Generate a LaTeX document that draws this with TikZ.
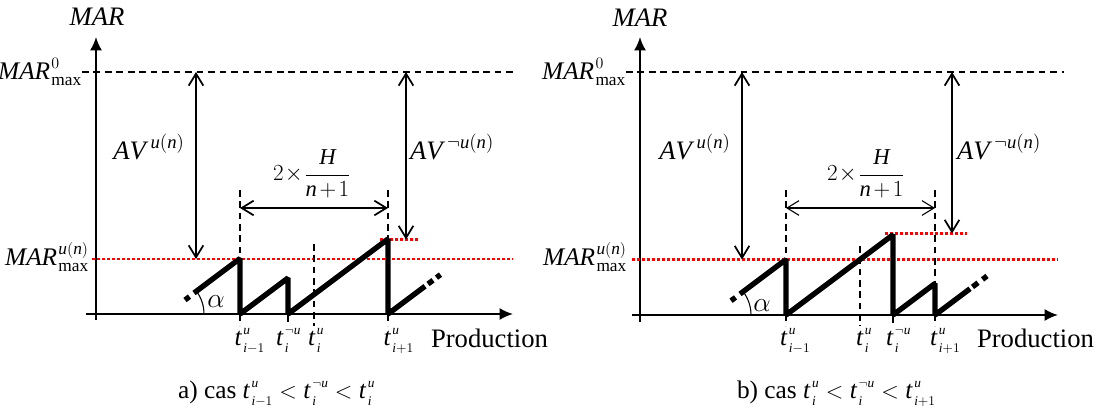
\documentclass[tikz,border=0pt]{standalone}
\usepackage{fontspec}
\setmainfont{Liberation Serif}
\usetikzlibrary{arrows.meta}
\DeclareMathSizes{20}{20}{14}{10}
\DeclareMathSizes{19}{19}{13}{10}
\DeclareMathSizes{18}{18}{12}{9}
\DeclareMathSizes{17}{17}{11}{8}
\newcommand{\mi}[1]{\mathit{#1}}
\newcommand{\tlab}[2]{${\mi{t}\mkern1.5mu}^{\raisebox{1.5pt}{$\scriptscriptstyle #1$}}_{\raisebox{-1pt}{$\scriptscriptstyle #2$}}$}
\newcommand{\marlab}[1]{${\mi{MAR}\mkern1mu}^{#1}_{\mathrm{max}}$}
\newcommand{\avlab}[1]{${\mi{AV}\mkern3mu}^{#1}$}
\newcommand{\fraclab}{$2\mkern1mu{\times}\mkern1mu\displaystyle\frac{\mi{H}}{\mi{n}\mkern2mu{+}\mkern2mu1}$}
\begin{document}
\begin{tikzpicture}[x=0.75pt,y=-0.75pt,
  every node/.style={inner sep=0pt,outer sep=0pt},
  axis/.style={line width=1.5pt,-{Latex[length=10pt,width=9pt]}},
  tickline/.style={line width=1.3pt},
  dbl/.style={line width=1.3pt,{Straight Barb[length=9pt,width=11pt]}-{Straight Barb[length=9pt,width=11pt]}},
  dblthin/.style={dbl,line width=0.8pt},
  maxline/.style={line width=1.4pt,dash pattern=on 5pt off 3.6pt},
  vdash/.style={line width=1.4pt,dash pattern=on 5pt off 3.5pt},
  reddot/.style={draw=red,line width=1.8pt,dash pattern=on 1.9pt off 1.85pt},
  saw/.style={line width=4pt,line join=bevel},
  arcline/.style={line width=0.8pt},
  bigtxt/.style={font=\fontsize{20}{24}\selectfont},
  midtxt/.style={font=\fontsize{19}{23}\selectfont},
  martxt/.style={font=\fontsize{19}{23}\selectfont},
  fractxt/.style={font=\fontsize{17}{20}\selectfont},
  tlabel/.style={font=\fontsize{19}{23}\selectfont,anchor=base west}
]
\useasboundingbox (0,0) rectangle (1098,413);

% ================= LEFT PANEL =================
\coordinate (LyB) at (96,320);
\coordinate (LyT) at (96,37);
\coordinate (LxB) at (86,314);
\coordinate (LxE) at (513,314);
\draw[axis] (LyB) -- (LyT);
\draw[axis] (LxB) -- (LxE);

\node[bigtxt] (Lmar) at (97,17) {$\mi{MAR}$};
\node[martxt,anchor=east] (LmarO) at (82,72) {\marlab{0}};
\node[martxt,anchor=east] (LmarU) at (89,257) {\marlab{\mi{u}(\mi{n})}};

\coordinate (LmaxA) at (82,72);
\coordinate (LmaxB) at (515,72);
\draw[maxline] (LmaxA) -- (LmaxB);

\coordinate (LrA) at (92,259);
\coordinate (LrB) at (513,259);
\draw[reddot] (LrA) -- (LrB);
\coordinate (Lr2A) at (380,239.5);
\coordinate (Lr2B) at (418,239.5);
\draw[reddot] (Lr2A) -- (Lr2B);

% dashed verticals
\draw[vdash] (240,190) -- (240,326);
\draw[vdash] (388,190) -- (388,326);
\draw[vdash] (314,244) -- (314,326);
\draw[tickline] (288,314) -- (288,322);

% double arrows
\coordinate (LavT) at (196,72);
\coordinate (LavB) at (196,259);
\draw[dbl] (LavT) -- (LavB);
\coordinate (LanT) at (406,72);
\coordinate (LanB) at (406,239.5);
\draw[dbl] (LanT) -- (LanB);
\coordinate (LhA) at (240,208);
\coordinate (LhB) at (388,208);
\draw[dbl] (LhA) -- (LhB);

\node[bigtxt] (Lav) at (149,147) {\avlab{\mi{u}(\mi{n})}};
\node[bigtxt] (Lavn) at (452,147) {\avlab{\neg\mi{u}(\mi{n})}};
\node[fractxt] (Lfrac) at (312,174) {\fraclab};

% sawtooth
\draw[saw] (194,293) -- (240,258.5) -- (240,314) -- (288,278) -- (288,314) -- (388,239) -- (388,314) -- (425,286.25);
\draw[saw] (185,300) -- (189.5,296.6);
\draw[saw] (428,284) -- (433,280.25);
\draw[saw] (436.5,277.6) -- (440.5,274.6);
\draw[arcline] (204,314) arc[start angle=0,end angle=37,radius=28.5pt];
\node[bigtxt] (Lalpha) at (216,302) {$\alpha$};

% t labels
\node[tlabel] (Lt1) at (234.5,345) {\tlab{\mi{u}}{\mi{i}-1}};
\node[tlabel] (Lt2) at (276,345) {\tlab{\neg\mi{u}}{\mi{i}}};
\node[tlabel] (Lt3) at (308,345) {\tlab{\mi{u}}{\mi{i}}};
\node[tlabel] (Lt4) at (383.5,345) {\tlab{\mi{u}}{\mi{i}+1}};
\node[bigtxt,anchor=base west] (Lprod) at (431,347) {Production};

\node[midtxt,anchor=base west] (Lcap) at (178,398) {a) cas \tlab{\mi{u}}{\mi{i}-1}${}<{}$\tlab{\neg\mi{u}}{\mi{i}}${}<{}$\tlab{\mi{u}}{\mi{i}}};

% ================= RIGHT PANEL =================
\coordinate (RyB) at (640,322);
\coordinate (RyT) at (640,37);
\coordinate (RxB) at (632,315);
\coordinate (RxE) at (1058,315);
\draw[axis] (RyB) -- (RyT);
\draw[axis] (RxB) -- (RxE);

\node[bigtxt] (Rmar) at (640,18) {$\mi{MAR}$};
\node[martxt,anchor=east] (RmarO) at (626,72) {\marlab{0}};
\node[martxt,anchor=east] (RmarU) at (627,257) {\marlab{\mi{u}(\mi{n})}};

\coordinate (RmaxA) at (626,72);
\coordinate (RmaxB) at (1064,72);
\draw[maxline] (RmaxA) -- (RmaxB);

\coordinate (RrA) at (632,259.5);
\coordinate (RrB) at (1058,259.5);
\draw[reddot] (RrA) -- (RrB);
\coordinate (Rr2A) at (885,233.5);
\coordinate (Rr2B) at (967,233.5);
\draw[reddot] (Rr2A) -- (Rr2B);

\draw[vdash] (786,190) -- (786,326);
\draw[vdash] (935,190) -- (935,326);
\draw[vdash] (860,246) -- (860,326);
\draw[tickline] (893,315) -- (893,323);

\coordinate (RavT) at (742,72);
\coordinate (RavB) at (742,259.5);
\draw[dbl] (RavT) -- (RavB);
\coordinate (RanT) at (952,72);
\coordinate (RanB) at (952,233.5);
\draw[dbl] (RanT) -- (RanB);
\coordinate (RhA) at (786,208);
\coordinate (RhB) at (935,208);
\draw[dblthin] (RhA) -- (RhB);

\node[bigtxt] (Rav) at (695,147) {\avlab{\mi{u}(\mi{n})}};
\node[bigtxt] (Ravn) at (999,147) {\avlab{\neg\mi{u}(\mi{n})}};
\node[fractxt] (Rfrac) at (866,174) {\fraclab};

\draw[saw] (740,294) -- (786,259.5) -- (786,315) -- (893,234.75) -- (893,315) -- (935,283.5) -- (935,315) -- (970,288.75);
\draw[saw] (731,300.75) -- (735.5,297.4);
\draw[saw] (972.5,286.9) -- (978,282.75);
\draw[saw] (982.5,279.4) -- (987,276);
\draw[arcline] (751,315) arc[start angle=0,end angle=37,radius=29pt];
\node[bigtxt] (Ralpha) at (762,306) {$\alpha$};

\node[tlabel] (Rt1) at (780,345) {\tlab{\mi{u}}{\mi{i}-1}};
\node[tlabel] (Rt2) at (856,345) {\tlab{\mi{u}}{\mi{i}}};
\node[tlabel] (Rt3) at (886,345) {\tlab{\neg\mi{u}}{\mi{i}}};
\node[tlabel] (Rt4) at (930,345) {\tlab{\mi{u}}{\mi{i}+1}};
\node[bigtxt,anchor=base west] (Rprod) at (977,347) {Production};

\node[midtxt,anchor=base west] (Rcap) at (737,398) {b) cas \tlab{\mi{u}}{\mi{i}}${}<{}$\tlab{\neg\mi{u}}{\mi{i}}${}<{}$\tlab{\mi{u}}{\mi{i}+1}};
\end{tikzpicture}
\end{document}
